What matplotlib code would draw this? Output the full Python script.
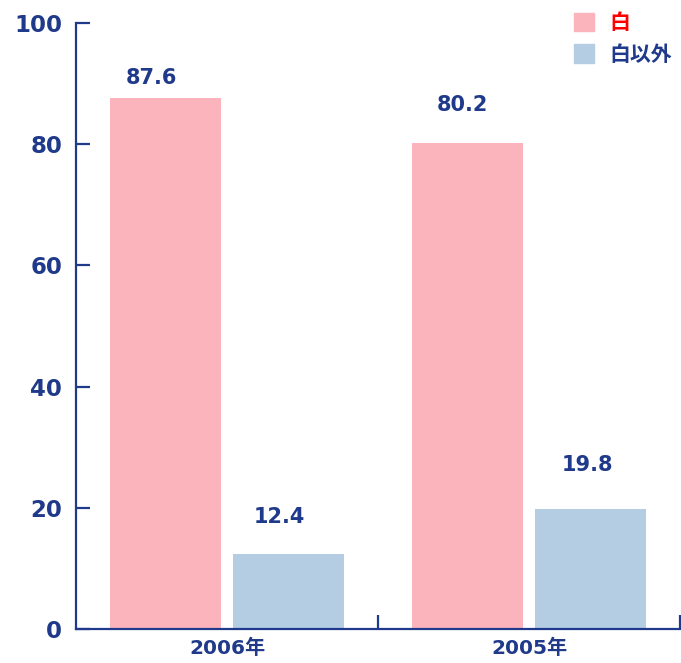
import matplotlib
matplotlib.use("Agg")
import matplotlib.pyplot as plt
from matplotlib.patches import Patch
import numpy as np

years = ["2006年", "2005年"]
white = [87.6, 80.2]
other = [12.4, 19.8]
series_names = ["白", "白以外"]
yticks = [0, 20, 40, 60, 80, 100]

NAVY = "#1f3a8a"
PINK = "#fbb4bc"
BLUE = "#b4cde3"
FAM = ["DejaVu Sans", "Noto Sans CJK JP"]
plt.rcParams["font.family"] = FAM

fig = plt.figure(figsize=(6.81, 6.63), dpi=100)
ax = fig.add_axes([76 / 681, 34 / 663, 604 / 681, 606 / 663])

x = np.arange(len(years)) + 0.5
w, off = 0.367, 0.203
ax.bar(x - off, white, w, color=PINK, zorder=2)
ax.bar(x + off, other, w, color=BLUE, zorder=2)

# label nudges (x, y) per bar, as placed in the original
nudge_w = [(-0.048, 3.4), (-0.019, 6.3)]
nudge_o = [(-0.028, 6.1), (-0.011, 7.3)]
for i in range(len(years)):
    ax.text(x[i] - off + nudge_w[i][0], white[i] + nudge_w[i][1], f"{white[i]:.1f}",
            ha="center", va="center", fontsize=15, fontweight="bold", color=NAVY)
    ax.text(x[i] + off + nudge_o[i][0], other[i] + nudge_o[i][1], f"{other[i]:.1f}",
            ha="center", va="center", fontsize=15, fontweight="bold", color=NAVY)

ax.set_xlim(0, 2)
ax.set_ylim(0, 100)
ax.set_yticks(yticks)
ax.set_yticklabels([str(t) for t in yticks], fontsize=16.5, fontweight="bold", color=NAVY)
ax.set_xticks(x)
ax.set_xticklabels(years, fontsize=14.5, fontweight="bold", color=NAVY)
ax.set_xticks([1, 2], minor=True)
ax.tick_params(axis="x", which="major", length=0, pad=7)
ax.tick_params(axis="x", which="minor", direction="in", length=10, width=1.6, color=NAVY)
ax.tick_params(axis="y", direction="in", length=10, width=1.6, color=NAVY, pad=10)
for s in ("top", "right"):
    ax.spines[s].set_visible(False)
for s in ("left", "bottom"):
    ax.spines[s].set_color(NAVY)
    ax.spines[s].set_linewidth(1.6)

handles = [Patch(color=PINK), Patch(color=BLUE)]
leg = ax.legend(handles, series_names, loc="upper right", bbox_to_anchor=(1.0, 1.031),
                frameon=False, handlelength=1.0, handleheight=1.0, handletextpad=0.7,
                labelspacing=0.55, borderaxespad=0, borderpad=0.4,
                prop={"family": FAM, "size": 15, "weight": "bold"})
for t, c in zip(leg.get_texts(), ["#ff0000", NAVY]):
    t.set_color(c)

fig.savefig("out.png", dpi=100)
